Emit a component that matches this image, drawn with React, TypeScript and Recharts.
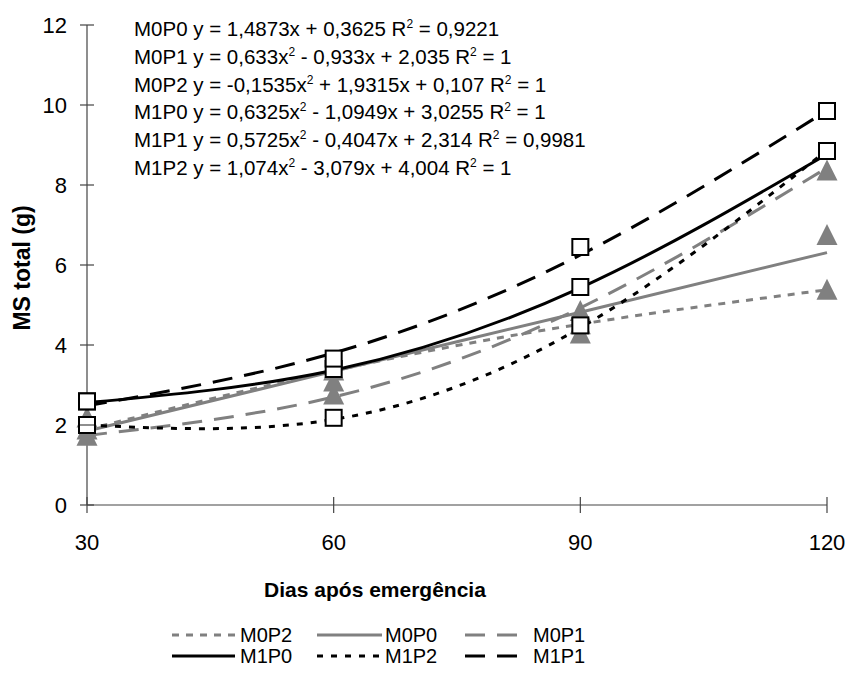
import React from 'react';
import { ComposedChart, Line, XAxis, YAxis } from 'recharts';

// ---- data ----
const days = [30, 60, 90, 120];
const yTicks = [0, 2, 4, 6, 8, 10, 12];

// observed points
const m0p0Obs = [2.19, 3.09, 4.29, 6.75];
const m0p1Obs = [1.73, 2.76, 4.85, 8.36];
const m0p2Obs = [1.89, 3.36, 4.52, 5.38];
const m1p0Obs = [2.59, 3.4, 5.45, 8.85];
const m1p1Obs = [2.59, 3.66, 6.45, 9.85];
const m1p2Obs = [2.0, 2.18, 4.49, 8.85];

// trend-line values at each day
const m0p0Fit = [1.85, 3.34, 4.82, 6.31];
const m0p1Fit = [1.74, 2.7, 4.93, 8.43];
const m0p2Fit = [1.89, 3.36, 4.52, 5.38];
const m1p0Fit = [2.56, 3.37, 5.43, 8.77];
const m1p1Fit = [2.48, 3.8, 6.25, 9.86];
const m1p2Fit = [2.0, 2.14, 4.43, 8.87];

const equations = [
  ['M0P0 y = 1,4873x + 0,3625 R', ' = 0,9221'],
  ['M0P1 y = 0,633x', ' - 0,933x + 2,035 R', ' = 1'],
  ['M0P2 y = -0,1535x', ' + 1,9315x + 0,107 R', ' = 1'],
  ['M1P0 y = 0,6325x', ' - 1,0949x + 3,0255 R', ' = 1'],
  ['M1P1 y = 0,5725x', ' - 0,4047x + 2,314 R', ' = 0,9981'],
  ['M1P2 y = 1,074x', ' - 3,079x + 4,004 R', ' = 1'],
];

const legendRows = [
  ['M0P2', 'M0P0', 'M0P1'],
  ['M1P0', 'M1P2', 'M1P1'],
];

// ---- styles ----
const GRAY = '#808080';
const lineStyle: Record<string, { color: string; dash?: string }> = {
  M0P2: { color: GRAY, dash: '7 7' },
  M0P0: { color: GRAY },
  M0P1: { color: GRAY, dash: '20 12' },
  M1P0: { color: '#000' },
  M1P2: { color: '#000', dash: '6 8' },
  M1P1: { color: '#000', dash: '20 12' },
};

const rows = days.map((d, i) => ({
  day: d,
  M0P0: m0p0Obs[i],
  M0P1: m0p1Obs[i],
  M0P2: m0p2Obs[i],
  M1P0: m1p0Obs[i],
  M1P1: m1p1Obs[i],
  M1P2: m1p2Obs[i],
  M0P0_fit: m0p0Fit[i],
  M0P1_fit: m0p1Fit[i],
  M0P2_fit: m0p2Fit[i],
  M1P0_fit: m1p0Fit[i],
  M1P1_fit: m1p1Fit[i],
  M1P2_fit: m1p2Fit[i],
}));

const FONT = '"Liberation Sans", Arial, sans-serif';

const Triangle = (p: any) => {
  const { cx, cy, index, dataKey } = p;
  if (cx == null || cy == null) return <g key={`t-${dataKey}-${index}`} />;
  return (
    <polygon
      key={`t-${dataKey}-${index}`}
      points={`${cx},${cy - 11} ${cx - 10.5},${cy + 10} ${cx + 10.5},${cy + 10}`}
      fill={GRAY}
      stroke="none"
    />
  );
};

const Square = (p: any) => {
  const { cx, cy, index, dataKey } = p;
  if (cx == null || cy == null) return <g key={`s-${dataKey}-${index}`} />;
  return (
    <rect
      key={`s-${dataKey}-${index}`}
      x={cx - 8}
      y={cy - 8}
      width={16}
      height={16}
      fill="#fff"
      stroke="#000"
      strokeWidth={2}
    />
  );
};

const YTick = (p: any) => {
  const { x, y, payload } = p;
  return (
    <g>
      <line x1={x - 7} x2={x + 7} y1={y} y2={y} stroke="#444" strokeWidth={1.2} />
      <text x={x - 20} y={y + 8} textAnchor="end" fontSize={22} fontFamily={FONT} fill="#000">
        {payload.value}
      </text>
    </g>
  );
};

const XTick = (p: any) => {
  const { x, y, payload } = p;
  return (
    <g>
      <line x1={x} x2={x} y1={y - 8} y2={y + 8} stroke="#444" strokeWidth={1.2} />
      <text x={x} y={y + 45} textAnchor="middle" fontSize={22} fontFamily={FONT} fill="#000">
        {payload.value}
      </text>
    </g>
  );
};

const eqBaselines = equations.map((_, i) => 36 + i * 27.8);
const legendCols = [
  { x1: 172, x2: 235, tx: 240 },
  { x1: 317, x2: 382, tx: 385 },
  { x1: 465, x2: 522, tx: 533 },
];
const legendBaselines = [642, 663];

export default function App() {
  const obsKeys = ['M0P2', 'M0P0', 'M0P1', 'M1P0', 'M1P2', 'M1P1'];
  return (
    <div style={{ position: 'absolute', left: 0, top: 0, width: 849, height: 675, background: '#fff' }}>
      <ComposedChart
        width={849}
        height={675}
        data={rows}
        margin={{ top: 25, right: 22, left: 0, bottom: 130 }}
      >
        <XAxis
          dataKey="day"
          type="number"
          domain={[30, 120]}
          ticks={days}
          height={40}
          tickSize={0}
          tickMargin={0}
          tickLine={false}
          tick={<XTick />}
          axisLine={{ stroke: '#444', strokeWidth: 1.2 }}
          interval={0}
        />
        <YAxis
          type="number"
          domain={[0, 12]}
          ticks={yTicks}
          width={87}
          tickSize={0}
          tickMargin={0}
          tickLine={false}
          tick={<YTick />}
          axisLine={{ stroke: '#444', strokeWidth: 1.2 }}
          interval={0}
        />
        {obsKeys
          .filter((k) => k.startsWith('M0'))
          .map((k) => (
            <Line
              key={`obs-${k}`}
              dataKey={k}
              stroke="none"
              dot={Triangle}
              activeDot={false}
              isAnimationActive={false}
              legendType="none"
            />
          ))}
        {obsKeys
          .filter((k) => k.startsWith('M1'))
          .map((k) => (
            <Line
              key={`obs-${k}`}
              dataKey={k}
              stroke="none"
              dot={Square}
              activeDot={false}
              isAnimationActive={false}
              legendType="none"
            />
          ))}
        {obsKeys.map((k) => (
          <Line
            key={`fit-${k}`}
            dataKey={`${k}_fit`}
            type="natural"
            stroke={lineStyle[k].color}
            strokeWidth={3}
            strokeDasharray={lineStyle[k].dash}
            dot={false}
            activeDot={false}
            isAnimationActive={false}
          />
        ))}
      </ComposedChart>
      <svg
        width={849}
        height={675}
        style={{ position: 'absolute', left: 0, top: 0, pointerEvents: 'none' }}
      >
        {equations.map((parts, i) => (
          <text key={i} x={134} y={eqBaselines[i]} fontSize={20.5} fontFamily={FONT} fill="#000">
            {parts.map((s, j) => (
              <React.Fragment key={j}>
                {j > 0 && (
                  <tspan fontSize={12} dy={-8}>
                    2
                  </tspan>
                )}
                <tspan dy={j > 0 ? 8 : 0}>{s}</tspan>
              </React.Fragment>
            ))}
          </text>
        ))}
        <text x={375} y={597} textAnchor="middle" fontSize={21} fontWeight="bold" fontFamily={FONT}>
          Dias após emergência
        </text>
        <text
          x={30}
          y={268}
          textAnchor="middle"
          fontSize={23}
          fontWeight="bold"
          fontFamily={FONT}
          transform="rotate(-90 30 268)"
        >
          MS total (g)
        </text>
        {legendRows.map((row, r) =>
          row.map((name, c) => {
            const col = legendCols[c];
            const st = lineStyle[name];
            const ly = legendBaselines[r] - 7;
            return (
              <g key={`${r}-${c}`}>
                <line
                  x1={col.x1}
                  x2={col.x2}
                  y1={ly}
                  y2={ly}
                  stroke={st.color}
                  strokeWidth={3}
                  strokeDasharray={st.dash}
                />
                <text x={col.tx} y={legendBaselines[r]} fontSize={20} fontFamily={FONT}>
                  {name}
                </text>
              </g>
            );
          })
        )}
      </svg>
    </div>
  );
}
